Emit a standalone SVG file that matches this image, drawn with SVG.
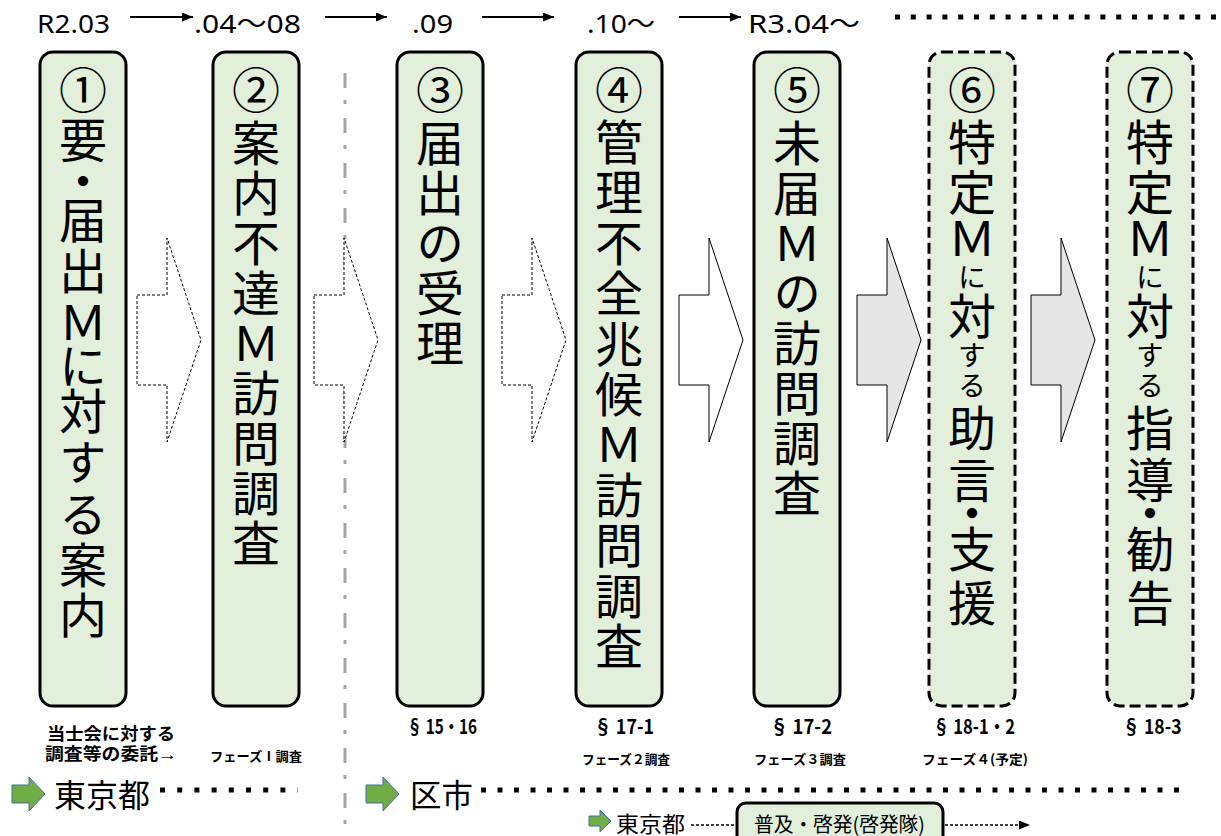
<svg xmlns="http://www.w3.org/2000/svg" width="1221" height="836" viewBox="0 0 1221 836">
<style>
.box{fill:#e2efda;stroke:#000;stroke-width:3}
.dsh{stroke-dasharray:11 5}
.vt{font-family:"Noto Sans CJK JP","Noto Sans CJK SC",sans-serif;font-size:48px;text-anchor:middle;writing-mode:vertical-rl;text-orientation:upright;fill:#000}
.sm{font-size:28px}
.tl{font-family:"Noto Sans","Noto Sans CJK JP",sans-serif;font-size:26px;fill:#000}
.lb{font-family:"Noto Sans CJK JP",sans-serif;font-weight:700;text-anchor:middle;fill:#000}
.lb2{font-family:"Liberation Sans","Noto Sans CJK JP",sans-serif;font-weight:700;text-anchor:middle;fill:#000}
.big{font-family:"Noto Sans CJK JP",sans-serif;fill:#000;dominant-baseline:central}
.ba{stroke:#000;stroke-width:1}
.bad{fill:#fff;stroke-dasharray:3 2}
.baw{fill:#fff}
.bag{fill:#e7e6e6}
.ga{fill:#70ad47;stroke:#41719c;stroke-width:1}
.tla{stroke:#000;stroke-width:2;fill:none;marker-end:url(#tri)}
.dots{stroke:#000;stroke-width:5;fill:none}
</style>
<defs>
<marker id="tri" markerUnits="userSpaceOnUse" markerWidth="11" markerHeight="9" refX="11" refY="4.5" orient="auto">
<path d="M0,0 L11,4.5 L0,9 Z" fill="#000"/>
</marker>
</defs>

<g id="timeline">
<text class="tl" x="37" y="33" textLength="73" lengthAdjust="spacingAndGlyphs">R2.03</text>
<text class="tl" x="194" y="33" textLength="107" lengthAdjust="spacingAndGlyphs">.04〜08</text>
<text class="tl" x="412" y="33" textLength="41" lengthAdjust="spacingAndGlyphs">.09</text>
<text class="tl" x="587" y="33" textLength="68" lengthAdjust="spacingAndGlyphs">.10〜</text>
<text class="tl" x="748" y="33" textLength="112" lengthAdjust="spacingAndGlyphs">R3.04〜</text>
</g>

<g id="divider">
<line x1="345" y1="73" x2="345" y2="836" stroke="#a6a6a6" stroke-width="3" stroke-dasharray="15 12 4 14"/>
</g>

<g id="connectors">
<line class="tla" x1="130" y1="17" x2="193" y2="17"/>
<line class="tla" x1="325" y1="17" x2="387" y2="17"/>
<line class="tla" x1="482" y1="17" x2="554" y2="17"/>
<line class="tla" x1="679" y1="17" x2="741" y2="17"/>
<line class="dots" x1="895" y1="17" x2="1221" y2="17" stroke-dasharray="5 10.8"/>
<path class="ba bad" d="M137,295 H167 V238 L201,340 L167,442 V385 H137 Z"/>
<path class="ba bad" d="M314,295 H344 V238 L378,340 L344,442 V385 H314 Z"/>
<path class="ba bad" d="M502,295 H532 V238 L566,340 L532,442 V385 H502 Z"/>
<path class="ba baw" d="M679,295 H709 V238 L743,340 L709,442 V385 H679 Z"/>
<path class="ba bag" d="M857,295 H887 V238 L921,340 L887,442 V385 H857 Z"/>
<path class="ba bag" d="M1031,295 H1061 V238 L1095,340 L1061,442 V385 H1031 Z"/>
<line class="dots" x1="160" y1="790" x2="298" y2="790" stroke-dasharray="5 12.2"/>
<line class="dots" x1="481" y1="790" x2="1186" y2="790" stroke-dasharray="5 11.5"/>
<line x1="691" y1="825" x2="735" y2="825" stroke="#000" stroke-width="1.3" stroke-dasharray="3 2"/>
<line x1="945" y1="825" x2="1030" y2="825" stroke="#000" stroke-width="1.3" stroke-dasharray="3 2" marker-end="url(#tri)"/>
</g>

<g id="n1">
<rect class="box" x="40" y="52" width="86" height="654" rx="13"/>
<text class="vt" x="83 83 83 83 83 83 83 83 83 83 83 83" y="90 140 181 220 271 322 366 411 462 514 565 615">①要・届出Ｍに対する案内</text>
</g>
<g id="n2">
<rect class="box" x="213" y="52" width="86" height="654" rx="13"/>
<text class="vt" x="256 256 256 256 256 256 256 256 256 256" y="90 143 193 243 293 343 393 443 493 543">②案内不達Ｍ訪問調査</text>
</g>
<g id="n3">
<rect class="box" x="397" y="52" width="86" height="654" rx="13"/>
<text class="vt" x="440 440 440 440 440 440" y="90 143 193 243 293 343">③届出の受理</text>
</g>
<g id="n4">
<rect class="box" x="576" y="52" width="86" height="654" rx="13"/>
<text class="vt" x="619 619 619 619 619 619 619 619 619 619 619 619" y="90 142 192 243 293 344 394 444 495 545 596 646">④管理不全兆候Ｍ訪問調査</text>
</g>
<g id="n5">
<rect class="box" x="754" y="52" width="86" height="654" rx="13"/>
<text class="vt" x="797 797 797 797 797 797 797 797 797" y="90 143 193 243 293 343 393 443 493">⑤未届Ｍの訪問調査</text>
</g>
<g id="n6">
<rect class="box dsh" x="929" y="52" width="86" height="654" rx="13"/>
<text class="vt" x="972 972 972 972" y="90 142 192 238">⑥特定Ｍ<tspan class="sm" x="972" y="277">に</tspan><tspan x="972" y="316">対</tspan><tspan class="sm" x="972 972" y="355 385">する</tspan><tspan x="972 972 972 972 972" y="428 480 513 549 603">助言・支援</tspan></text>
</g>
<g id="n7">
<rect class="box dsh" x="1107" y="52" width="86" height="654" rx="13"/>
<text class="vt" x="1150 1150 1150 1150" y="90 142 192 238">⑦特定Ｍ<tspan class="sm" x="1150" y="277">に</tspan><tspan x="1150" y="316">対</tspan><tspan class="sm" x="1150 1150" y="355 385">する</tspan><tspan x="1150 1150 1150 1150 1150" y="428 480 513 549 603">指導・勧告</tspan></text>
</g>

<g id="labels">
<text class="lb2" x="111" y="740" font-size="17" textLength="128" lengthAdjust="spacingAndGlyphs">当士会に対する</text>
<text class="lb2" x="111" y="760" font-size="17" textLength="132" lengthAdjust="spacingAndGlyphs">調査等の委託→</text>
<text class="lb" x="256" y="761" font-size="13" textLength="92" lengthAdjust="spacingAndGlyphs">フェーズⅠ調査</text>
<text class="lb" x="442" y="734" font-size="20" textLength="70" lengthAdjust="spacingAndGlyphs">§ 15・16</text>
<text class="lb" x="624" y="734" font-size="20" textLength="60" lengthAdjust="spacingAndGlyphs">§ 17-1</text>
<text class="lb" x="801" y="734" font-size="20" textLength="62" lengthAdjust="spacingAndGlyphs">§ 17-2</text>
<text class="lb" x="974" y="734" font-size="20" textLength="82" lengthAdjust="spacingAndGlyphs">§ 18-1・2</text>
<text class="lb" x="1152" y="734" font-size="20" textLength="59" lengthAdjust="spacingAndGlyphs">§ 18-3</text>
<text class="lb" x="626" y="764" font-size="13" textLength="88" lengthAdjust="spacingAndGlyphs">フェーズ２調査</text>
<text class="lb" x="800" y="764" font-size="13" textLength="92" lengthAdjust="spacingAndGlyphs">フェーズ３調査</text>
<text class="lb" x="975" y="764" font-size="13" textLength="106" lengthAdjust="spacingAndGlyphs">フェーズ４(予定)</text>
</g>

<g id="tokyo">
<path class="ga" d="M12,785 H29 V777 L45,794 L29,811 V803 H12 Z"/>
<text class="big" x="54" y="793" font-size="32" textLength="96" lengthAdjust="spacingAndGlyphs">東京都</text>
</g>
<g id="kushi">
<path class="ga" d="M366,785 H383 V777 L399,794 L383,811 V803 H366 Z"/>
<text class="big" x="410" y="793" font-size="32" textLength="63" lengthAdjust="spacingAndGlyphs">区市</text>
</g>
<g id="tokyo2">
<path class="ga" d="M589,816 H600 V810 L611,821 L600,832 V826 H589 Z"/>
<text class="big" x="616" y="822" font-size="22" textLength="69" lengthAdjust="spacingAndGlyphs">東京都</text>
</g>
<g id="keihatsu">
<rect class="box" x="737" y="803" width="206" height="50" rx="9"/>
<text class="big" x="754" y="823" font-size="20" textLength="171" lengthAdjust="spacingAndGlyphs">普及・啓発(啓発隊)</text>
</g>
</svg>
